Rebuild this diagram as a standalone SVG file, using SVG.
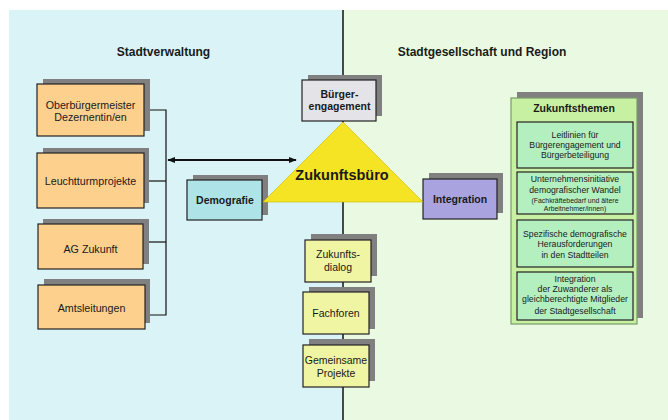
<svg xmlns="http://www.w3.org/2000/svg" width="668" height="420" viewBox="0 0 668 420">
<defs>
<style>
text{font-family:"Liberation Sans",Arial,sans-serif;fill:#1a1a1a;text-anchor:middle}
.b{font-weight:bold}
.h{font-size:12px;font-weight:bold}
.o{font-size:10.7px}
.m{font-size:10.5px}
.s{font-size:8.7px}
.xs{font-size:6.9px}
.sh{fill:#808080}
.box{stroke:#222;stroke-width:1.2}
.or{fill:#fed08e}
.ye{fill:#eff5a2}
.ln{stroke:#111;stroke-width:1.2;fill:none}
</style>
<marker id="ah" viewBox="0 0 10 10" refX="9" refY="5" markerWidth="8" markerHeight="8" markerUnits="userSpaceOnUse" orient="auto-start-reverse">
<path d="M0,1 L10,5 L0,9 Z" fill="#111"/>
</marker>
</defs>
<rect x="0" y="0" width="668" height="420" fill="#ffffff"/>
<rect x="9" y="10" width="334" height="410" fill="#d9f3f6"/>
<rect x="343" y="10" width="325" height="410" fill="#eaf9e1"/>
<line x1="343" y1="10" x2="343" y2="420" stroke="#111" stroke-width="1.5"/>
<text class="h" x="163.5" y="56">Stadtverwaltung</text>
<text class="h" x="482" y="56">Stadtgesellschaft und Region</text>

<g id="connectors">
<polyline class="ln" points="144,110 166,110 166,315 143,315"/>
<line class="ln" x1="144" y1="181" x2="166" y2="181"/>
<line class="ln" x1="143" y1="242" x2="166" y2="242"/>
<line x1="168" y1="160" x2="296" y2="160" stroke="#111" stroke-width="1.8" marker-start="url(#ah)" marker-end="url(#ah)"/>
</g>

<g id="oberbuergermeister">
<rect class="sh" x="43" y="79" width="107" height="52"/>
<rect class="box or" x="37" y="84" width="107" height="52"/>
<text class="o" x="90.5" y="108.5">Oberbürgermeister</text>
<text class="o" x="90.5" y="120.7">Dezernentin/en</text>
</g>
<g id="leuchtturmprojekte">
<rect class="sh" x="43" y="148" width="106" height="55"/>
<rect class="box or" x="37" y="153" width="107" height="55"/>
<text class="o" x="90.5" y="184.5">Leuchtturmprojekte</text>
</g>
<g id="agzukunft">
<rect class="sh" x="43" y="219" width="106" height="45"/>
<rect class="box or" x="38" y="224" width="105" height="45"/>
<text class="o" x="90.5" y="253">AG Zukunft</text>
</g>
<g id="amtsleitungen">
<rect class="sh" x="44" y="279" width="106" height="44"/>
<rect class="box or" x="38" y="285" width="107" height="44"/>
<text class="o" x="91.5" y="311.5">Amtsleitungen</text>
</g>

<g id="buergerengagement">
<rect class="sh" x="308" y="75" width="74" height="41"/>
<rect class="box" x="302" y="80" width="74" height="41" fill="#e4e4e8"/>
<text class="m b" x="339.5" y="98">Bürger-</text>
<text class="m b" x="339.5" y="110">engagement</text>
</g>

<g id="demografie">
<rect class="sh" x="193" y="175" width="75" height="40"/>
<rect class="box" x="187" y="180" width="75" height="40" fill="#aee4e8"/>
<text class="m b" x="225" y="204">Demografie</text>
</g>

<g id="integration">
<rect class="sh" x="429" y="173" width="74" height="40"/>
<rect class="box" x="423" y="179" width="74" height="40" fill="#a9a4e0"/>
<text class="m b" x="460" y="203">Integration</text>
</g>

<g id="zukunftsbuero">
<polygon points="343,122 263,202 423,202" fill="#f4e424" stroke="#cdb900" stroke-width="0.6"/>
<text class="b" x="342" y="180" style="font-size:14.5px">Zukunftsbüro</text>
</g>

<g id="zukunftsdialog">
<rect class="sh" x="311" y="234" width="66" height="42"/>
<rect class="box ye" x="305" y="240" width="66" height="42"/>
<text class="m" x="338" y="258">Zukunfts-</text>
<text class="m" x="338" y="271">dialog</text>
</g>
<g id="fachforen">
<rect class="sh" x="309" y="287" width="66" height="42"/>
<rect class="box ye" x="303" y="292" width="66" height="42"/>
<text class="m" x="336" y="317">Fachforen</text>
</g>
<g id="gemeinsameprojekte">
<rect class="sh" x="309" y="339" width="66" height="42"/>
<rect class="box ye" x="303" y="345" width="66" height="42"/>
<text class="m" x="336" y="364">Gemeinsame</text>
<text class="m" x="336" y="377">Projekte</text>
</g>

<g id="zukunftsthemen">
<rect class="sh" x="517" y="92" width="126" height="226"/>
<rect x="511" y="98" width="126" height="226" fill="#c8f0a2" stroke="#7a9a6a" stroke-width="1.2"/>
<text class="b" x="574" y="112" style="font-size:10.5px">Zukunftsthemen</text>
</g>
<g id="leitlinien">
<rect class="box" x="517" y="122" width="116" height="46" fill="#b4efc0"/>
<text class="s" x="575" y="138">Leitlinien für</text>
<text class="s" x="575" y="148.3">Bürgerengagement und</text>
<text class="s" x="575" y="158.3">Bürgerbeteiligung</text>
</g>
<g id="unternehmensinitiative">
<rect class="box" x="517" y="172" width="116" height="42" fill="#b4efc0"/>
<text class="s" x="575" y="182">Unternehmensinitiative</text>
<text class="s" x="575" y="192.7">demografischer Wandel</text>
<text class="xs" x="575" y="203">(Fachkräftebedarf und ältere</text>
<text class="xs" x="575" y="211.3">Arbeitnehmer/innen)</text>
</g>
<g id="spezifische">
<rect class="box" x="517" y="220" width="116" height="47" fill="#b4efc0"/>
<text class="s" x="575" y="236.7">Spezifische demografische</text>
<text class="s" x="575" y="247">Herausforderungen</text>
<text class="s" x="575" y="257.7">in den Stadtteilen</text>
</g>
<g id="integrationzuwanderer">
<rect class="box" x="517" y="272" width="116" height="48" fill="#b4efc0"/>
<text class="s" x="575" y="281.7">Integration</text>
<text class="s" x="575" y="291.7">der Zuwanderer als</text>
<text class="s" x="575" y="302.3">gleichberechtigte Mitglieder</text>
<text class="s" x="575" y="313.7">der Stadtgesellschaft</text>
</g>
</svg>
